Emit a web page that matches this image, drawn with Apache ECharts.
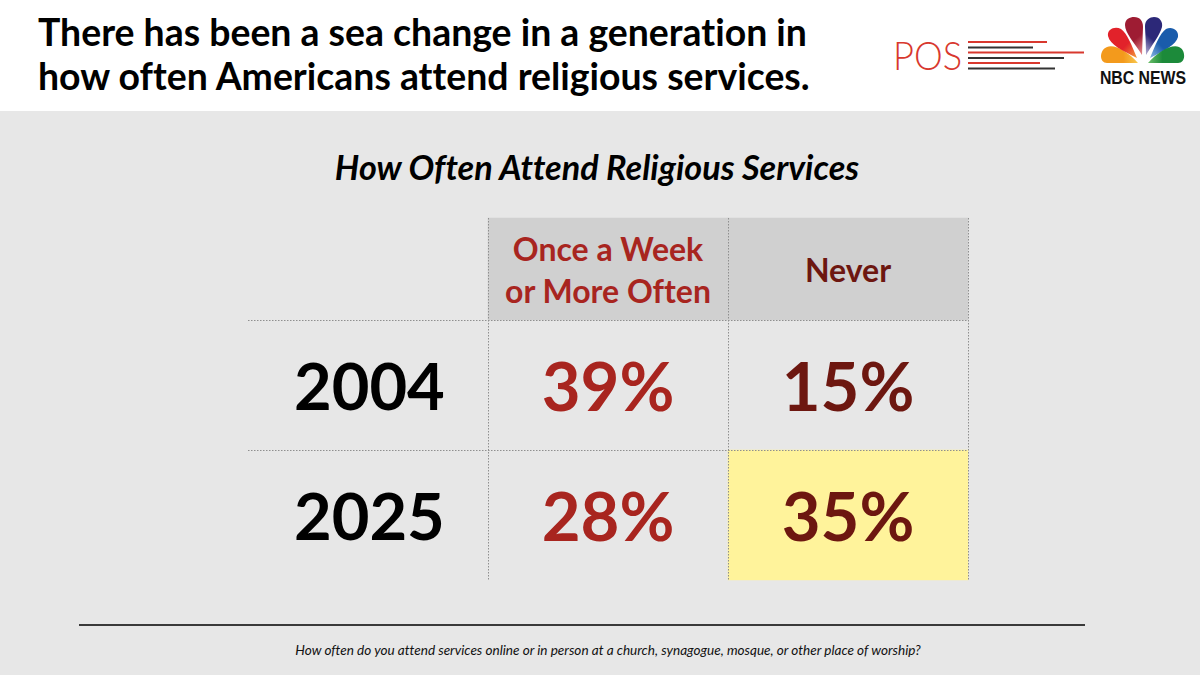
<!DOCTYPE html>
<html><head><meta charset="utf-8">
<style>html,body{margin:0;padding:0;background:#e7e7e7}#c{width:1200px;height:675px}
#c text{font-variant-ligatures:none}</style>
<script src="https://cdn.jsdelivr.net/npm/echarts@6/dist/echarts.min.js"></script>
</head><body><div id="c"></div>
<script>
const headerLabels = ['Once a Week\nor More Often', 'Never'];
const years = ['2004', '2025'];
const weekly = [39, 28];
const never = [15, 35];
const FONT = 'Lato';
const RED = '#a8251f', DARK = '#6d1710';
const columns = ['', ...headerLabels];
const rowsBottomUp = years.slice().reverse();
const yellowCell = { year: '2025', col: 'Never' };

function cell(col, year, v, color) {
  const hi = yellowCell.year === year && yellowCell.col === col;
  return {
    value: [col, year, v],
    itemStyle: { color: hi ? '#fff39b' : 'rgba(0,0,0,0)' },
    label: { color }
  };
}
const bodyData = [];
years.forEach((y, i) => {
  bodyData.push(cell(headerLabels[0], y, weekly[i], RED));
  bodyData.push(cell(headerLabels[1], y, never[i], DARK));
});
const headerData = [
  { value: [headerLabels[0], 'h', 0], label: { formatter: headerLabels[0], color: RED } },
  { value: [headerLabels[1], 'h', 0], label: { formatter: headerLabels[1], color: DARK } }
];
const dotted = { color: '#8f8f8f', width: 1, type: [1.5, 1.5] };

const feathers = [
  ['M1138 63 L1107 63 C1099 63 1099 50 1107 47 C1115 44 1128 52 1138 63Z', '#f39a1c', '#f8c84e', [0, .5, 1, .5]],
  ['M1137 58 C1122 50 1110 45 1108 36 C1107 29 1115 26 1121 29 C1127 33 1132 46 1137 58Z', '#e2222a', '#f4a03a', [0, 0, 1, 1]],
  ['M1142 55 C1134 42 1125 33 1125 25 C1125 19 1130 17 1134 17 C1140 17 1143 21 1143 27Z', '#9e1c33', '#dd7b80', [.3, 0, .7, 1]],
  ['M1146 55 C1146 40 1145 30 1145 26 C1145 20 1150 17 1154 17 C1160 17 1163 22 1162 27 C1160 35 1152 45 1146 55Z', '#2c2878', '#a49cc8', [.7, 0, .3, 1]],
  ['M1150 58 C1155 46 1160 33 1166 29 C1172 26 1179 30 1178 37 C1176 45 1165 50 1150 58Z', '#1a5cab', '#8cbbe6', [1, 0, 0, 1]],
  ['M1148 63 L1178 63 C1186 63 1186 50 1179 47 C1171 44 1158 52 1148 63Z', '#1c8a3a', '#6cc06a', [1, .5, 0, .5]]
];
feathers.forEach((f, i) => echarts.graphic.registerShape('feather' + i, echarts.graphic.extendPath(f[0], {})));
const posLines = [
  [42, 1047, '#d8382e'], [47.5, 1033, '#333'], [52.5, 1084, '#d8382e'],
  [58, 1064, '#333'], [63, 1040, '#d8382e'], [68.5, 1055, '#333']
];

const graphic = [
  { type: 'rect', z: -10, shape: { x: 0, y: 0, width: 1200, height: 111 }, style: { fill: '#fff' } },
  { type: 'line', shape: { x1: 79, y1: 625, x2: 1085, y2: 625 }, style: { stroke: '#000', lineWidth: 1.5 } },
  { type: 'text', x: 893, y: 35, scaleX: 0.93, style: { text: 'POS', font: '300 39px ' + FONT, fill: '#d8382e' } },
  ...posLines.map(l => ({ type: 'line', shape: { x1: 968, y1: l[0], x2: l[1], y2: l[0] }, style: { stroke: l[2], lineWidth: 1.8 } })),
  ...feathers.map((f, i) => ({
    type: 'feather' + i,
    style: { fill: new echarts.graphic.LinearGradient(f[3][0], f[3][1], f[3][2], f[3][3], [{ offset: 0, color: f[1] }, { offset: 0.6, color: f[1] }, { offset: 1, color: f[2] }]) }
  })),
  { type: 'text', x: 1143, y: 69, scaleX: 0.88, style: { text: 'NBC NEWS', align: 'center', font: 'bold 18px Liberation Sans', fill: '#111' } }
];

const chart = echarts.init(document.getElementById('c'), null, { renderer: 'svg' });
chart.setOption({
  backgroundColor: '#e7e7e7',
  animation: false,
  title: [
    { text: 'There has been a sea change in a generation in\nhow often Americans attend religious services.', left: 33, top: 4,
      textStyle: { fontFamily: FONT, fontWeight: 'bold', fontSize: 37.4, lineHeight: 44, color: '#000' } },
    { text: 'How Often Attend Religious Services', left: 592, top: 144, textAlign: 'center',
      textStyle: { fontFamily: FONT, fontWeight: 'bold', fontStyle: 'italic', fontSize: 34.2, color: '#000' } },
    { text: 'How often do you attend services online or in person at a church, synagogue, mosque, or other place of worship?', left: 603, top: 638, textAlign: 'center',
      textStyle: { fontFamily: FONT, fontWeight: 'normal', fontStyle: 'italic', fontSize: 13.55, color: '#111' } }
  ],
  grid: [
    { left: 488, top: 218, width: 480, height: 102 },
    { left: 248, top: 320, width: 720, height: 260 }
  ],
  xAxis: [
    { gridIndex: 0, z: 3, type: 'category', data: headerLabels, axisLine: { show: false }, axisTick: { show: false }, axisLabel: { show: false },
      splitLine: { show: true, lineStyle: dotted } },
    { gridIndex: 1, z: 3, type: 'category', data: columns, axisLine: { show: false }, axisTick: { show: false }, axisLabel: { show: false },
      splitLine: { show: true, showMinLine: false, lineStyle: dotted } }
  ],
  yAxis: [
    { gridIndex: 0, type: 'category', data: ['h'], axisLine: { show: false }, axisTick: { show: false }, axisLabel: { show: false }, splitLine: { show: false } },
    { gridIndex: 1, z: 3, type: 'category', data: rowsBottomUp, axisLine: { show: false }, axisTick: { show: false },
      axisLabel: { inside: true, margin: 46, color: '#000', fontFamily: FONT, fontWeight: 'bold', fontSize: 65 },
      splitLine: { show: true, showMinLine: false, lineStyle: dotted } }
  ],
  series: [
    { type: 'heatmap', xAxisIndex: 0, yAxisIndex: 0, data: headerData, z: 1,
      itemStyle: { color: '#d0d0d0' },
      label: { show: true, fontFamily: FONT, fontWeight: 'bold', fontSize: 32, lineHeight: 42 } },
    { type: 'heatmap', xAxisIndex: 1, yAxisIndex: 1, data: bodyData, z: 1,
      label: { show: true, fontFamily: FONT, fontWeight: 'bold', fontSize: 67, formatter: p => p.value[2] + '%' } }
  ],
  graphic
});
</script></body></html>
